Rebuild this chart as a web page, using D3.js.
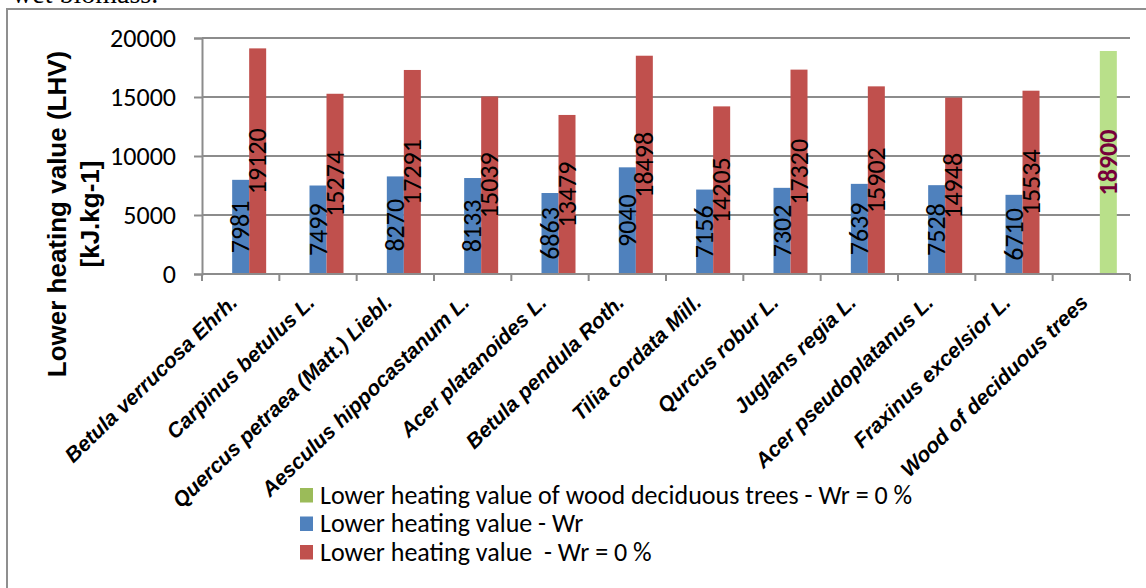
<!DOCTYPE html>
<html>
<head>
<meta charset="utf-8">
<script src="https://cdn.jsdelivr.net/npm/d3@7/dist/d3.min.js"></script>
<style>
  html, body { margin: 0; padding: 0; background: #fff; }
  svg { display: block; }
</style>
</head>
<body>
<svg id="chart" width="1146" height="588"></svg>
<script>
// Species (category axis)
const categories = [
  "Betula verrucosa Ehrh.",
  "Carpinus betulus L.",
  "Quercus petraea (Matt.) Liebl.",
  "Aesculus hippocastanum L.",
  "Acer platanoides L.",
  "Betula pendula Roth.",
  "Tilia cordata Mill.",
  "Qurcus robur L.",
  "Juglans regia L.",
  "Acer pseudoplatanus L.",
  "Fraxinus excelsior L.",
  "Wood of deciduous trees"
];

// Lower heating value at working moisture Wr [kJ/kg]
const lhvWr = [7981, 7499, 8270, 8133, 6863, 9040, 7156, 7302, 7639, 7528, 6710, null];

// Lower heating value, dry basis (Wr = 0 %) [kJ/kg]
const lhvDry = [19120, 15274, 17291, 15039, 13479, 18498, 14205, 17320, 15902, 14948, 15534, null];

// Reference value for deciduous wood, Wr = 0 % [kJ/kg]
const lhvWood = [null, null, null, null, null, null, null, null, null, null, null, 18900];

const yTicks = [0, 5000, 10000, 15000, 20000];

const legendLabels = [
  "Lower heating value of wood deciduous trees - Wr = 0 %",
  "Lower heating value - Wr",
  "Lower heating value  - Wr = 0 %"
];

const svg = d3.select("#chart");
const W = 1146, H = 588;

const plot = { left: 202, right: 1130, top: 38, bottom: 274 };

const colors = { wood: "#9BBB59", woodBar: "#B9E08A", wr: "#4F81BD", dry: "#C0504D", woodLabel: "#76003A" };
const bodyFont = "Carlito, Calibri, 'Liberation Sans', Arial, sans-serif";

// Outer frame (left and top edges visible)
svg.append("path")
  .attr("d", `M7,${H} L7,9 L${W},9`)
  .attr("fill", "none")
  .attr("stroke", "#8f8f8f")
  .attr("stroke-width", 2);

// Text line of the page above the figure
svg.append("text")
  .attr("x", 12).attr("y", 3)
  .attr("font-family", "'Liberation Serif', 'Times New Roman', serif")
  .attr("font-size", 28)
  .attr("fill", "#000")
  .text("wet biomass.");

const x0 = d3.scaleBand().domain(categories).range([plot.left, plot.right]).padding(0);
// three slots per category: wood reference, Wr, dry
const x1 = d3.scaleBand().domain(["s0", "s1", "s2"]).range([0, x0.bandwidth()])
  .paddingInner(0).paddingOuter(0.7745);
const y = d3.scaleLinear().domain([0, 20000]).range([plot.bottom, plot.top]);

// Gridlines
svg.append("g").selectAll("line").data(yTicks.filter(d => d > 0)).join("line")
  .attr("x1", plot.left).attr("x2", plot.right)
  .attr("y1", d => y(d)).attr("y2", d => y(d))
  .attr("stroke", "#8c8c8c").attr("stroke-width", 2);

// Y axis
const yAxis = svg.append("g")
  .attr("transform", `translate(${plot.left},0)`)
  .call(d3.axisLeft(y).tickValues(yTicks).tickFormat(d3.format("d")).tickSize(8).tickPadding(18));
yAxis.selectAll("line").attr("stroke", "#8c8c8c").attr("stroke-width", 2);
yAxis.select(".domain").attr("stroke", "#8c8c8c").attr("stroke-width", 2);
yAxis.selectAll("text")
  .attr("font-family", bodyFont)
  .attr("font-size", 26).attr("fill", "#000");

// Bars
function drawSeries(values, slot, fill) {
  const data = categories.map((c, i) => ({ c, v: values[i] })).filter(d => d.v != null);
  svg.append("g").selectAll("rect").data(data).join("rect")
    .attr("x", d => x0(d.c) + x1(slot))
    .attr("y", d => y(d.v))
    .attr("width", x1.bandwidth())
    .attr("height", d => y(0) - y(d.v))
    .attr("fill", fill);
  return data;
}
const dWr = drawSeries(lhvWr, "s1", colors.wr);
const dDry = drawSeries(lhvDry, "s2", colors.dry);
const dWood = drawSeries(lhvWood, "s2", colors.woodBar);

// X axis line and ticks at category boundaries
svg.append("line")
  .attr("x1", plot.left).attr("x2", plot.right)
  .attr("y1", plot.bottom).attr("y2", plot.bottom)
  .attr("stroke", "#8c8c8c").attr("stroke-width", 2);
const bounds = categories.map(c => x0(c)).concat([plot.right]);
svg.append("g").selectAll("line").data(bounds).join("line")
  .attr("x1", d => d).attr("x2", d => d)
  .attr("y1", plot.bottom).attr("y2", plot.bottom + 7)
  .attr("stroke", "#8c8c8c").attr("stroke-width", 2);

// Data labels, rotated, centered in each bar
function labelSeries(data, slot, color, weight) {
  svg.append("g").selectAll("text").data(data).join("text")
    .attr("transform", d => {
      const cx = x0(d.c) + x1(slot) + x1.bandwidth() / 2;
      const cy = (y(d.v) + y(0)) / 2;
      return `translate(${cx},${cy}) rotate(-90)`;
    })
    .attr("text-anchor", "middle")
    .attr("dy", "0.33em")
    .attr("font-family", bodyFont)
    .attr("font-size", 26)
    .attr("font-weight", weight)
    .attr("fill", color)
    .text(d => d.v);
}
labelSeries(dWr, "s1", "#000", "normal");
labelSeries(dDry, "s2", "#000", "normal");
labelSeries(dWood, "s2", colors.woodLabel, "bold");

// Category labels, slanted
svg.append("g").selectAll("text").data(categories).join("text")
  .attr("transform", d => `translate(${x0(d) + x0.bandwidth() / 2 - 2},${plot.bottom + 30}) rotate(-44)`)
  .attr("text-anchor", "end")
  .attr("font-family", "'Liberation Sans', Arial, sans-serif")
  .attr("font-size", 21)
  .attr("font-weight", "bold")
  .attr("font-style", "italic")
  .attr("fill", "#000")
  .text(d => d);

// Y axis title
const yTitle = svg.append("text")
  .attr("transform", "translate(57,214) rotate(-90)")
  .attr("text-anchor", "middle")
  .attr("font-family", "'Liberation Sans', Arial, sans-serif")
  .attr("font-size", 26)
  .attr("font-weight", "bold")
  .attr("fill", "#000");
yTitle.append("tspan").attr("x", 0).attr("dy", "0.36em").text("Lower heating value (LHV)");
yTitle.append("tspan").attr("x", 0).attr("dy", "1.27em").text("[kJ.kg-1]");

// Legend
const legendColors = [colors.wood, colors.wr, colors.dry];
const lg = svg.append("g").attr("transform", "translate(300,488)");
const rows = lg.selectAll("g").data(legendLabels).join("g")
  .attr("transform", (d, i) => `translate(0,${i * 28.5})`);
rows.append("rect").attr("width", 13).attr("height", 14.5).attr("fill", (d, i) => legendColors[i]);
rows.append("text")
  .attr("x", 20).attr("y", 15.5)
  .attr("font-family", bodyFont)
  .attr("font-size", 26)
  .attr("fill", "#000")
  .attr("xml:space", "preserve")
  .style("white-space", "pre")
  .text(d => d);
</script>
</body>
</html>
